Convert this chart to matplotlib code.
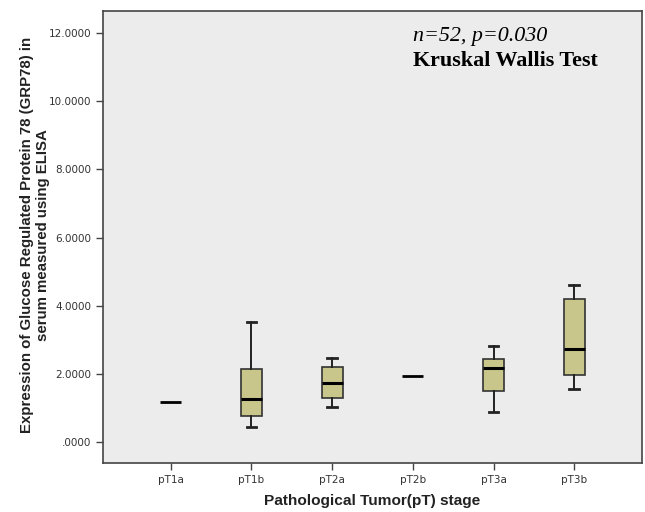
import matplotlib
matplotlib.use("Agg")
import matplotlib.pyplot as plt

# --------------------
# Data
# --------------------
stages = ['pT1a', 'pT1b', 'pT2a', 'pT2b', 'pT3a', 'pT3b']
whisker_low = [1.15, 0.43, 1.02, 1.92, 0.87, 1.55]
q1 = [1.15, 0.76, 1.28, 1.92, 1.48, 1.97]
medians = [1.15, 1.25, 1.73, 1.92, 2.16, 2.71]
q3 = [1.15, 2.13, 2.19, 1.92, 2.43, 4.19]
whisker_high = [1.15, 3.53, 2.47, 1.92, 2.82, 4.61]
y_ticks = [0, 2, 4, 6, 8, 10, 12]
y_tick_labels = ['.0000', '2.0000', '4.0000', '6.0000', '8.0000', '10.0000', '12.0000']

stats = []
for i, s in enumerate(stages):
    stats.append({
        'label': s,
        'whislo': whisker_low[i],
        'q1': q1[i],
        'med': medians[i],
        'q3': q3[i],
        'whishi': whisker_high[i],
        'fliers': [],
    })

fig = plt.figure(figsize=(6.45, 5.12), dpi=100)
ax = fig.add_axes([103 / 645, 1 - 463 / 512, (642 - 103) / 645, (463 - 11) / 512])
ax.set_facecolor('#ececec')

positions = list(range(1, len(stages) + 1))
bp = ax.bxp(stats, positions=positions, widths=0.26, patch_artist=True,
            showfliers=False,
            boxprops=dict(facecolor='#c9c68c', edgecolor='#333333', linewidth=1.2),
            medianprops=dict(color='black', linewidth=2.2),
            whiskerprops=dict(color='#222222', linewidth=1.4),
            capprops=dict(color='#222222', linewidth=2.0),
            capwidths=0.12)

# single-value groups show only a line
for i in range(len(stages)):
    if q1[i] == q3[i]:
        bp['boxes'][i].set_visible(False)
        bp['caps'][2 * i].set_visible(False)
        bp['caps'][2 * i + 1].set_visible(False)
        bp['medians'][i].set_linewidth(2.0)

ax.set_xlim(0.161, 6.84)
ax.set_ylim(-0.63, 12.66)
ax.set_yticks(y_ticks)
ax.set_yticklabels(y_tick_labels)
ax.set_xticks(positions)
ax.set_xticklabels(stages)
ax.tick_params(axis='both', direction='out', length=5, width=1, colors='#444444',
               labelsize=7.5, labelcolor='#333333')
for sp in ax.spines.values():
    sp.set_color('#444444')
    sp.set_linewidth(1.2)

ax.set_xlabel('Pathological Tumor(pT) stage', fontsize=11.1, fontweight='bold',
              family='Liberation Sans', color='#222222')
ax.xaxis.set_label_coords(0.5, -0.068)
ax.set_ylabel('Expression of Glucose Regulated Protein 78 (GRP78) in\nserum measured using ELISA',
              fontsize=10.8, fontweight='bold', family='Liberation Sans', color='#222222')
ax.yaxis.set_label_coords(-0.098, 0.505)

ax.text(413 / 645, 1 - 37 / 512, 'n=52, p=0.030', transform=fig.transFigure,
        fontsize=15.8, style='italic', family='Liberation Serif', va='center', ha='left')
ax.text(413 / 645, 1 - 61 / 512, 'Kruskal Wallis Test', transform=fig.transFigure,
        fontsize=15.8, fontweight='bold', family='Liberation Serif', va='center', ha='left')

fig.savefig('out.png', dpi=100)
